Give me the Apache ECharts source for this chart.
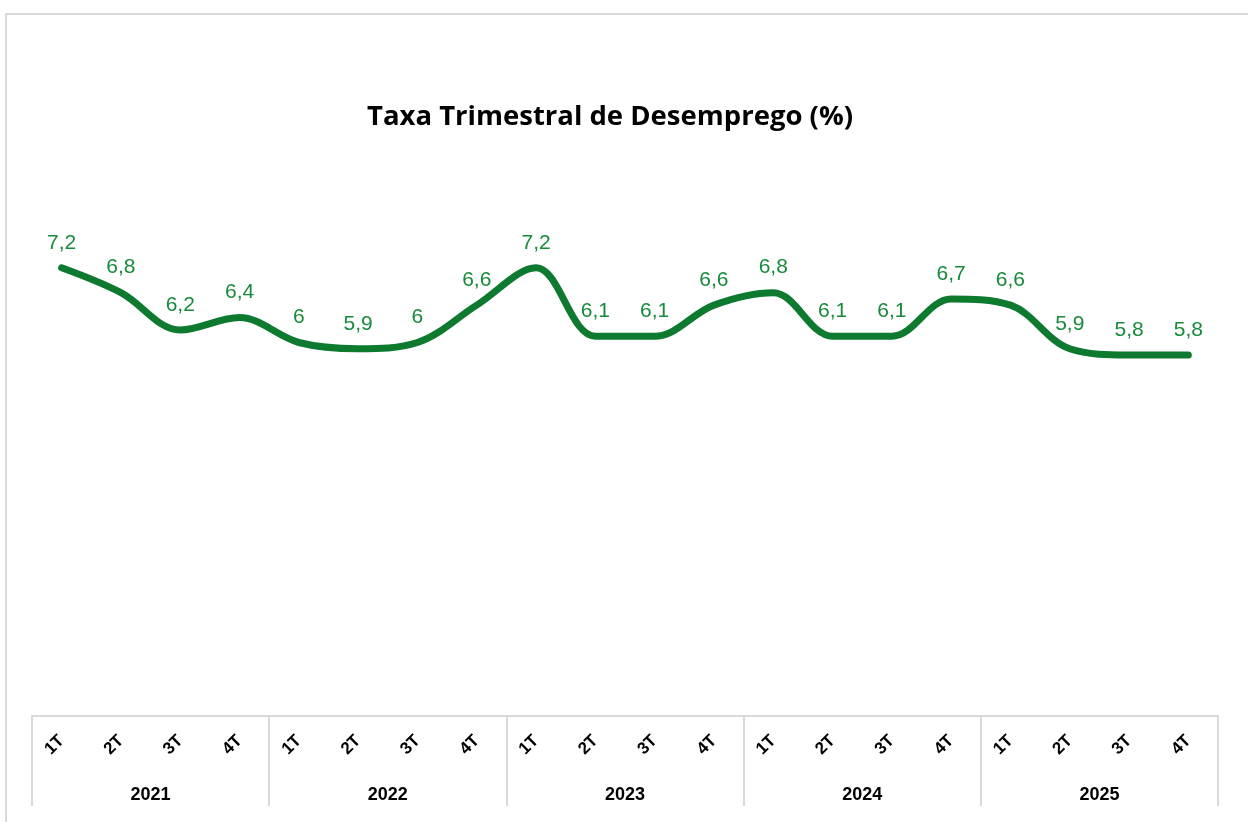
<!DOCTYPE html>
<html>
<head>
<meta charset="utf-8">
<title>Taxa Trimestral de Desemprego</title>
<script src="https://cdn.jsdelivr.net/npm/echarts@6/dist/echarts.min.js"></script>
<style>
  html, body { margin: 0; padding: 0; background: #fff; }
  #main { width: 1248px; height: 822px; }
</style>
</head>
<body>
<div id="main"></div>
<script>
// dados
var quarters = ['1T', '2T', '3T', '4T', '1T', '2T', '3T', '4T', '1T', '2T', '3T', '4T', '1T', '2T', '3T', '4T', '1T', '2T', '3T', '4T'];
var years = ['2021', '2022', '2023', '2024', '2025'];
var taxa = [7.2, 6.8, 6.2, 6.4, 6, 5.9, 6, 6.6, 7.2, 6.1, 6.1, 6.6, 6.8, 6.1, 6.1, 6.7, 6.6, 5.9, 5.8, 5.8];

var chart = echarts.init(document.getElementById('main'));
var verde = '#0d7a30';
var cinza = '#d9d9d9';

var option = {
  backgroundColor: '#fff',
  animation: false,
  title: {
    text: 'Taxa Trimestral de Desemprego (%)',
    left: 605,
    top: 98,
    textAlign: 'center',
    textStyle: {
      fontFamily: 'Open Sans',
      fontWeight: 'bold',
      fontSize: 27.5,
      color: '#000'
    }
  },
  graphic: [
    {
      type: 'polyline',
      shape: { points: [[6, 822], [6, 14], [1248, 14]] },
      style: { stroke: cinza, lineWidth: 2, fill: null },
      silent: true
    }
  ],
  grid: {
    left: 32,
    right: 30,
    top: 218,
    bottom: 106
  },
  xAxis: [
    {
      type: 'category',
      data: quarters,
      boundaryGap: true,
      axisLine: { lineStyle: { color: cinza, width: 2 } },
      axisTick: { show: false },
      axisLabel: {
        interval: 0,
        rotate: 45,
        margin: 22,
        fontFamily: 'Liberation Sans',
        fontWeight: 'bold',
        fontSize: 17,
        color: '#000'
      }
    },
    {
      type: 'category',
      data: years,
      position: 'bottom',
      boundaryGap: true,
      axisLine: { show: false },
      axisTick: {
        show: true,
        length: 90,
        lineStyle: { color: cinza, width: 2 }
      },
      axisLabel: {
        interval: 0,
        margin: 70,
        fontFamily: 'Liberation Sans',
        fontWeight: 'bold',
        fontSize: 18,
        color: '#000'
      }
    }
  ],
  yAxis: {
    type: 'value',
    min: 0,
    max: 8,
    show: false,
    splitLine: { show: false }
  },
  series: [
    {
      type: 'line',
      data: taxa,
      smooth: 0.35,
      symbol: 'circle',
      symbolSize: 1,
      showSymbol: true,
      itemStyle: { color: 'rgba(0,0,0,0)' },
      lineStyle: { color: verde, width: 7, cap: 'round' },
      label: {
        show: true,
        position: 'top',
        distance: 14,
        fontFamily: 'Liberation Sans',
        fontSize: 21,
        color: '#188a3b',
        formatter: function (p) {
          return String(p.value).replace('.', ',');
        }
      }
    }
  ]
};

chart.setOption(option);
</script>
</body>
</html>
